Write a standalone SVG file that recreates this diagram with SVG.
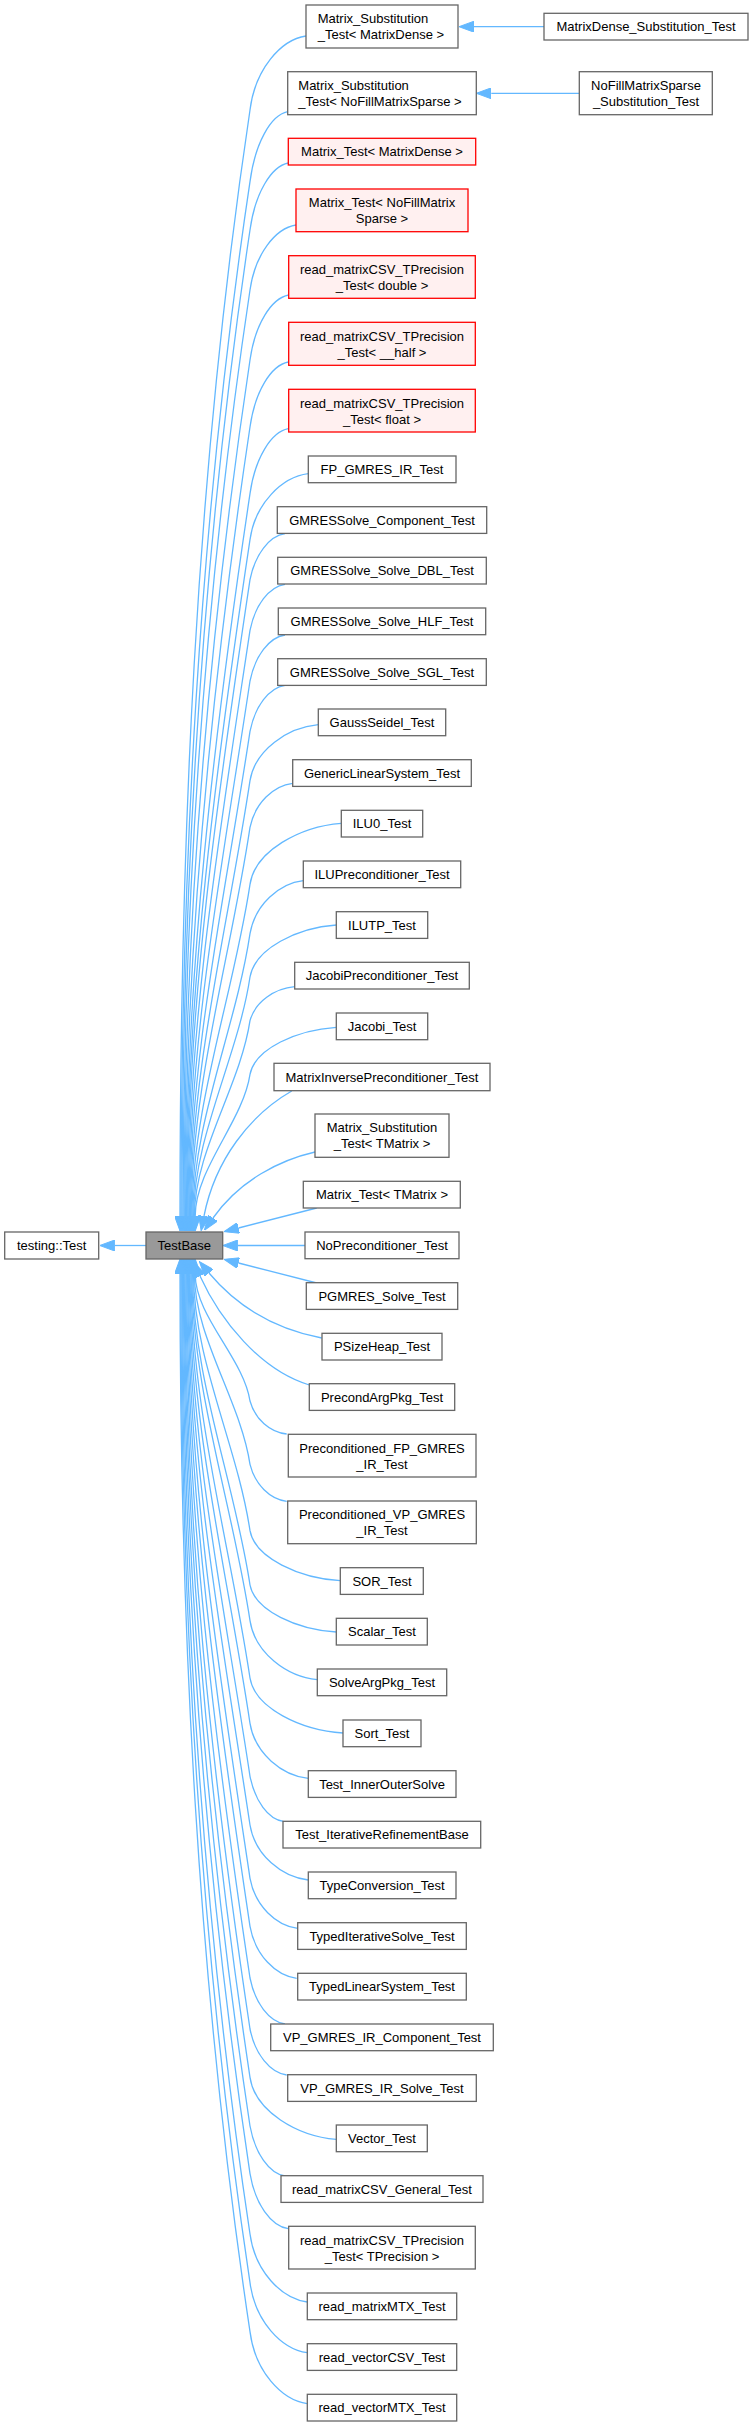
<svg xmlns="http://www.w3.org/2000/svg" width="750" height="2427" viewBox="0 0 750 2427">
<style>
.n{fill:#ffffff;stroke:#666666;stroke-width:1.3}
.r{fill:#fff0f0;stroke:#ff0000;stroke-width:1.3}
.c{fill:#999999;stroke:#666666;stroke-width:1.3}
text{font-family:"Liberation Sans",Arial,sans-serif;font-size:13px;fill:#000000}
.m{text-anchor:middle}
.e path{fill:none;stroke:#63b8ff;stroke-width:1.3;marker-end:url(#ah)}
</style>
<defs>
<marker id="ah" viewBox="0 0 15 11" refX="0" refY="5.5" markerWidth="15" markerHeight="11" markerUnits="userSpaceOnUse" orient="auto">
<path d="M0,0 L15,5.5 L0,11 z" fill="#63b8ff" stroke="#63b8ff" stroke-width="1"/>
</marker>
</defs>
<g id="edges" class="e">
<path d="M146,1245.5 L114.7,1245.5"/>
<path d="M544,26.7 L474,26.7"/>
<path d="M579.3,93.3 L491.3,93.3"/>
<path d="M306,36 C280.8,39.7 255,69.3 250,110 C194.7,478.7 180,847.3 180,1216"/>
<path d="M287.7,111.7 C270.7,115.2 255,143.2 250,181.7 C198.3,526.5 181,871.2 181,1216"/>
<path d="M288.3,163 C271.1,166.4 255,193.2 250,230 C200.7,558.7 182,887.3 182,1216"/>
<path d="M296,225 C275.3,228.3 255,254.3 250,290 C203.7,598.7 183,907.3 183,1216"/>
<path d="M288.7,295 C271.3,298.3 255,324.3 250,360 C207.2,645.3 184,930.7 184,1216"/>
<path d="M288.3,362 C271.1,365.3 255,391.3 250,427 C210.6,690 184.8,953 184.8,1216"/>
<path d="M288.3,428.7 C271.1,432 255,458 250,493.7 C213.9,734.5 185.6,975.2 185.6,1216"/>
<path d="M308.3,473.7 C282.1,477 255,503.4 250,539.7 C216.2,765.1 186.4,990.6 186.4,1216"/>
<path d="M285,533.7 C269.3,536 255,554.4 250,579.7 C218.2,791.8 187.2,1003.9 187.2,1216"/>
<path d="M285,584.3 C269.3,586.6 255,605 250,630.3 C220.7,825.5 188,1020.8 188,1216"/>
<path d="M285,635 C269.3,637.3 255,655.7 250,681 C223.3,859.3 188.8,1037.7 188.8,1216"/>
<path d="M285,685.3 C269.3,687.6 255,706 250,731.3 C225.8,892.9 189.6,1054.4 189.6,1216"/>
<path d="M318.3,724.7 C287.6,727.5 255,749.9 250,780.7 C228.2,925.8 190.4,1070.9 190.4,1216"/>
<path d="M292.7,783.3 C273.5,785.5 255,803.1 250,827.3 C230.6,956.9 191.2,1086.4 191.2,1216"/>
<path d="M341.3,823.3 C300.2,826.4 255,850.8 250,884.3 C233.4,994.9 192,1105.4 192,1216"/>
<path d="M303.3,880.7 C279.3,883.4 255,904.6 250,933.7 C235.9,1027.8 192.8,1121.9 192.8,1216"/>
<path d="M336.3,925 C297.5,927.6 255,948.4 250,977 C238,1056.7 193.6,1136.3 193.6,1216"/>
<path d="M294.7,986.7 C274.6,988.4 255,1002 250,1020.7 C240.2,1085.8 194.4,1150.9 194.4,1216"/>
<path d="M336.3,1027.3 C297.5,1029.7 255,1048.5 250,1074.3 C242.9,1121.5 195.2,1168.8 195.2,1216"/>
<path d="M291.7,1091 C250,1115 215,1160 204,1216"/>
<path d="M315,1152 C280,1160 240,1180 213,1218"/>
<path d="M316.7,1208 L238.5,1228"/>
<path d="M305,1245.5 L237.7,1245.5"/>
<path d="M316.7,1283 L238.5,1263"/>
<path d="M321.7,1338 C280,1330 240,1310 209,1273"/>
<path d="M309.3,1385 C260,1370 220,1320 200,1276"/>
<path d="M286.7,1434 C270.2,1432.4 255,1419.2 250,1401 C243.7,1358.7 195.2,1316.3 195.2,1274"/>
<path d="M286.7,1501.3 C270.2,1499.5 255,1484.7 250,1464.3 C240.5,1400.9 194.4,1337.4 194.4,1274"/>
<path d="M340.3,1580.7 C299.7,1578.2 255,1558.2 250,1530.7 C237.2,1445.1 193.5,1359.6 193.5,1274"/>
<path d="M336.3,1632 C297.5,1629.7 255,1610.9 250,1585 C234.4,1481.3 192.6,1377.7 192.6,1274"/>
<path d="M317.3,1679.7 C287,1676.7 255,1653.2 250,1620.7 C232.7,1505.1 191.8,1389.6 191.8,1274"/>
<path d="M343,1733 C301.2,1730.3 255,1708.3 250,1678 C229.8,1543.3 191,1408.7 191,1274"/>
<path d="M308.3,1778.3 C282.1,1775.6 255,1753.6 250,1723.3 C227.5,1573.5 190.1,1423.8 190.1,1274"/>
<path d="M283.3,1821.3 C268.3,1819.1 255,1801.1 250,1776.3 C224.9,1608.9 189.3,1441.4 189.3,1274"/>
<path d="M308.3,1880 C282.1,1877.3 255,1855.3 250,1825 C222.4,1641.3 188.4,1457.7 188.4,1274"/>
<path d="M297.7,1928.3 C276.2,1925.8 255,1905.8 250,1878.3 C219.8,1676.9 187.6,1475.4 187.6,1274"/>
<path d="M296.7,1978.3 C275.7,1975.7 255,1954.9 250,1926.3 C217.4,1708.9 186.7,1491.4 186.7,1274"/>
<path d="M285,2024 C269.3,2021.7 255,2003.3 250,1978 C214.8,1743.3 185.9,1508.7 185.9,1274"/>
<path d="M286.7,2075 C270.2,2072.7 255,2054.3 250,2029 C212.2,1777.3 185,1525.7 185,1274"/>
<path d="M336.3,2139.3 C297.5,2136.2 255,2111.4 250,2077.3 C209.8,1809.5 184.2,1541.8 184.2,1274"/>
<path d="M285,2176 C269.3,2173.5 255,2153.5 250,2126 C207.4,1842 183.4,1558 183.4,1274"/>
<path d="M288.3,2228.7 C271.1,2226 255,2204 250,2173.7 C205,1873.8 182.5,1573.9 182.5,1274"/>
<path d="M307.3,2302 C281.5,2298.6 255,2271.4 250,2234 C202,1914 181.7,1594 181.7,1274"/>
<path d="M307.3,2352.7 C281.5,2349.2 255,2321.2 250,2282.7 C199.6,1946.5 180.8,1610.2 180.8,1274"/>
<path d="M307.3,2403.7 C281.5,2400.1 255,2371.3 250,2331.7 C197.1,1979.1 180,1626.6 180,1274"/>
</g>
<g id="TestBase"><rect class="c" x="146" y="1232" width="76.7" height="27"/><text class="m" x="184.3" y="1250">TestBase</text></g>
<g id="testing_Test"><rect class="n" x="4.7" y="1232" width="94" height="27"/><text class="m" x="51.7" y="1250">testing::Test</text></g>
<g id="MatrixDense_Substitution_Test"><rect class="n" x="544" y="13.3" width="204" height="26.7"/><text class="m" x="646" y="31.3">MatrixDense_Substitution_Test</text></g>
<g id="NoFillMatrixSparse_Substitution_Test"><rect class="n" x="579.3" y="71.7" width="133" height="43"/><text class="m" x="646" y="90.2">NoFillMatrixSparse</text><text class="m" x="646" y="106.2">_Substitution_Test</text></g>
<g id="MS_MatrixDense"><rect class="n" x="306" y="5" width="152" height="43"/><text x="317.7" y="23.3">Matrix_Substitution</text><text x="317.7" y="39.3">_Test&lt; MatrixDense &gt;</text></g>
<g id="MS_NoFillMatrixSparse"><rect class="n" x="287.7" y="71.7" width="188.6" height="43"/><text x="298.3" y="90.2">Matrix_Substitution</text><text x="298.3" y="106.2">_Test&lt; NoFillMatrixSparse &gt;</text></g>
<g id="MT_MatrixDense"><rect class="r" x="288.3" y="138.3" width="187.4" height="26.7"/><text class="m" x="382" y="156.3">Matrix_Test&lt; MatrixDense &gt;</text></g>
<g id="MT_NoFillMatrixSparse"><rect class="r" x="296" y="189" width="172" height="42.7"/><text class="m" x="382" y="207">Matrix_Test&lt; NoFillMatrix</text><text class="m" x="382" y="223">Sparse &gt;</text></g>
<g id="rCSV_double"><rect class="r" x="288.7" y="255.7" width="186.6" height="42.6"/><text class="m" x="382" y="274">read_matrixCSV_TPrecision</text><text class="m" x="382" y="290">_Test&lt; double &gt;</text></g>
<g id="rCSV_half"><rect class="r" x="288.7" y="322.3" width="186.6" height="43"/><text class="m" x="382" y="340.7">read_matrixCSV_TPrecision</text><text class="m" x="382" y="356.7">_Test&lt; __half &gt;</text></g>
<g id="rCSV_float"><rect class="r" x="288.7" y="389.3" width="186.6" height="42.7"/><text class="m" x="382" y="407.6">read_matrixCSV_TPrecision</text><text class="m" x="382" y="423.6">_Test&lt; float &gt;</text></g>
<g id="FP_GMRES_IR_Test"><rect class="n" x="308.3" y="456" width="147.7" height="26.7"/><text class="m" x="382" y="474">FP_GMRES_IR_Test</text></g>
<g id="GMRESSolve_Component_Test"><rect class="n" x="277.3" y="506.7" width="209.4" height="26.7"/><text class="m" x="382" y="524.7">GMRESSolve_Component_Test</text></g>
<g id="GMRESSolve_Solve_DBL_Test"><rect class="n" x="277.7" y="557.3" width="208.6" height="26.7"/><text class="m" x="382" y="575.3">GMRESSolve_Solve_DBL_Test</text></g>
<g id="GMRESSolve_Solve_HLF_Test"><rect class="n" x="278.3" y="608" width="207.4" height="26.7"/><text class="m" x="382" y="626">GMRESSolve_Solve_HLF_Test</text></g>
<g id="GMRESSolve_Solve_SGL_Test"><rect class="n" x="277.7" y="658.7" width="208.6" height="26.7"/><text class="m" x="382" y="676.7">GMRESSolve_Solve_SGL_Test</text></g>
<g id="GaussSeidel_Test"><rect class="n" x="318.3" y="709" width="127.4" height="26.7"/><text class="m" x="382" y="727">GaussSeidel_Test</text></g>
<g id="GenericLinearSystem_Test"><rect class="n" x="292.7" y="759.7" width="178.6" height="26.7"/><text class="m" x="382" y="777.7">GenericLinearSystem_Test</text></g>
<g id="ILU0_Test"><rect class="n" x="341.3" y="810.3" width="81.4" height="26.7"/><text class="m" x="382" y="828.3">ILU0_Test</text></g>
<g id="ILUPreconditioner_Test"><rect class="n" x="303.3" y="861" width="157.4" height="26.7"/><text class="m" x="382" y="879">ILUPreconditioner_Test</text></g>
<g id="ILUTP_Test"><rect class="n" x="336.3" y="911.7" width="91.4" height="26.7"/><text class="m" x="382" y="929.7">ILUTP_Test</text></g>
<g id="JacobiPreconditioner_Test"><rect class="n" x="294.7" y="962.3" width="174.6" height="26.7"/><text class="m" x="382" y="980.3">JacobiPreconditioner_Test</text></g>
<g id="Jacobi_Test"><rect class="n" x="336.3" y="1013" width="91.4" height="26.7"/><text class="m" x="382" y="1031">Jacobi_Test</text></g>
<g id="MatrixInversePreconditioner_Test"><rect class="n" x="274" y="1063.3" width="216" height="27.4"/><text class="m" x="382" y="1081.6">MatrixInversePreconditioner_Test</text></g>
<g id="MS_TMatrix"><rect class="n" x="315" y="1114" width="134" height="43.3"/><text class="m" x="382" y="1132.4">Matrix_Substitution</text><text class="m" x="382" y="1148.4">_Test&lt; TMatrix &gt;</text></g>
<g id="MT_TMatrix"><rect class="n" x="303.3" y="1181.3" width="157" height="26.7"/><text class="m" x="382" y="1199.3">Matrix_Test&lt; TMatrix &gt;</text></g>
<g id="NoPreconditioner_Test"><rect class="n" x="305" y="1232" width="154" height="26.7"/><text class="m" x="382" y="1250">NoPreconditioner_Test</text></g>
<g id="PGMRES_Solve_Test"><rect class="n" x="306.3" y="1282.7" width="151.4" height="26.7"/><text class="m" x="382" y="1300.7">PGMRES_Solve_Test</text></g>
<g id="PSizeHeap_Test"><rect class="n" x="322" y="1333.3" width="120" height="26.7"/><text class="m" x="382" y="1351.3">PSizeHeap_Test</text></g>
<g id="PrecondArgPkg_Test"><rect class="n" x="309.3" y="1383.7" width="145.4" height="26.7"/><text class="m" x="382" y="1401.7">PrecondArgPkg_Test</text></g>
<g id="Preconditioned_FP_GMRES_IR_Test"><rect class="n" x="288.3" y="1434.3" width="187.7" height="42.7"/><text class="m" x="382" y="1452.6">Preconditioned_FP_GMRES</text><text class="m" x="382" y="1468.6">_IR_Test</text></g>
<g id="Preconditioned_VP_GMRES_IR_Test"><rect class="n" x="287.7" y="1501" width="188.6" height="42.7"/><text class="m" x="382" y="1519.3">Preconditioned_VP_GMRES</text><text class="m" x="382" y="1535.3">_IR_Test</text></g>
<g id="SOR_Test"><rect class="n" x="340.3" y="1567.7" width="83" height="26.7"/><text class="m" x="382" y="1585.7">SOR_Test</text></g>
<g id="Scalar_Test"><rect class="n" x="336.3" y="1618.3" width="91" height="26.7"/><text class="m" x="382" y="1636.3">Scalar_Test</text></g>
<g id="SolveArgPkg_Test"><rect class="n" x="317.3" y="1669" width="129.4" height="26.7"/><text class="m" x="382" y="1687">SolveArgPkg_Test</text></g>
<g id="Sort_Test"><rect class="n" x="343" y="1720" width="78" height="26.7"/><text class="m" x="382" y="1738">Sort_Test</text></g>
<g id="Test_InnerOuterSolve"><rect class="n" x="308.3" y="1770.7" width="147.7" height="26.7"/><text class="m" x="382" y="1788.7">Test_InnerOuterSolve</text></g>
<g id="Test_IterativeRefinementBase"><rect class="n" x="283" y="1821.3" width="197.7" height="26.7"/><text class="m" x="382" y="1839.3">Test_IterativeRefinementBase</text></g>
<g id="TypeConversion_Test"><rect class="n" x="308.3" y="1872" width="147.7" height="26.7"/><text class="m" x="382" y="1890">TypeConversion_Test</text></g>
<g id="TypedIterativeSolve_Test"><rect class="n" x="297.7" y="1922.7" width="168.6" height="26.7"/><text class="m" x="382" y="1940.7">TypedIterativeSolve_Test</text></g>
<g id="TypedLinearSystem_Test"><rect class="n" x="297.7" y="1973.3" width="168.6" height="26.7"/><text class="m" x="382" y="1991.3">TypedLinearSystem_Test</text></g>
<g id="VP_GMRES_IR_Component_Test"><rect class="n" x="270.7" y="2024" width="222.6" height="26.7"/><text class="m" x="382" y="2042">VP_GMRES_IR_Component_Test</text></g>
<g id="VP_GMRES_IR_Solve_Test"><rect class="n" x="287.7" y="2074.7" width="188.6" height="26.7"/><text class="m" x="382" y="2092.7">VP_GMRES_IR_Solve_Test</text></g>
<g id="Vector_Test"><rect class="n" x="336.3" y="2125" width="91" height="26.7"/><text class="m" x="382" y="2143">Vector_Test</text></g>
<g id="read_matrixCSV_General_Test"><rect class="n" x="281" y="2175.7" width="202" height="26.7"/><text class="m" x="382" y="2193.7">read_matrixCSV_General_Test</text></g>
<g id="rCSV_TPrecision"><rect class="n" x="288.7" y="2226.3" width="186.6" height="42.7"/><text class="m" x="382" y="2244.6">read_matrixCSV_TPrecision</text><text class="m" x="382" y="2260.6">_Test&lt; TPrecision &gt;</text></g>
<g id="read_matrixMTX_Test"><rect class="n" x="307.3" y="2293" width="149.4" height="26.7"/><text class="m" x="382" y="2311">read_matrixMTX_Test</text></g>
<g id="read_vectorCSV_Test"><rect class="n" x="307.3" y="2343.7" width="149.4" height="26.7"/><text class="m" x="382" y="2361.7">read_vectorCSV_Test</text></g>
<g id="read_vectorMTX_Test"><rect class="n" x="307.3" y="2394.3" width="149.4" height="26.7"/><text class="m" x="382" y="2412.3">read_vectorMTX_Test</text></g>
</svg>
